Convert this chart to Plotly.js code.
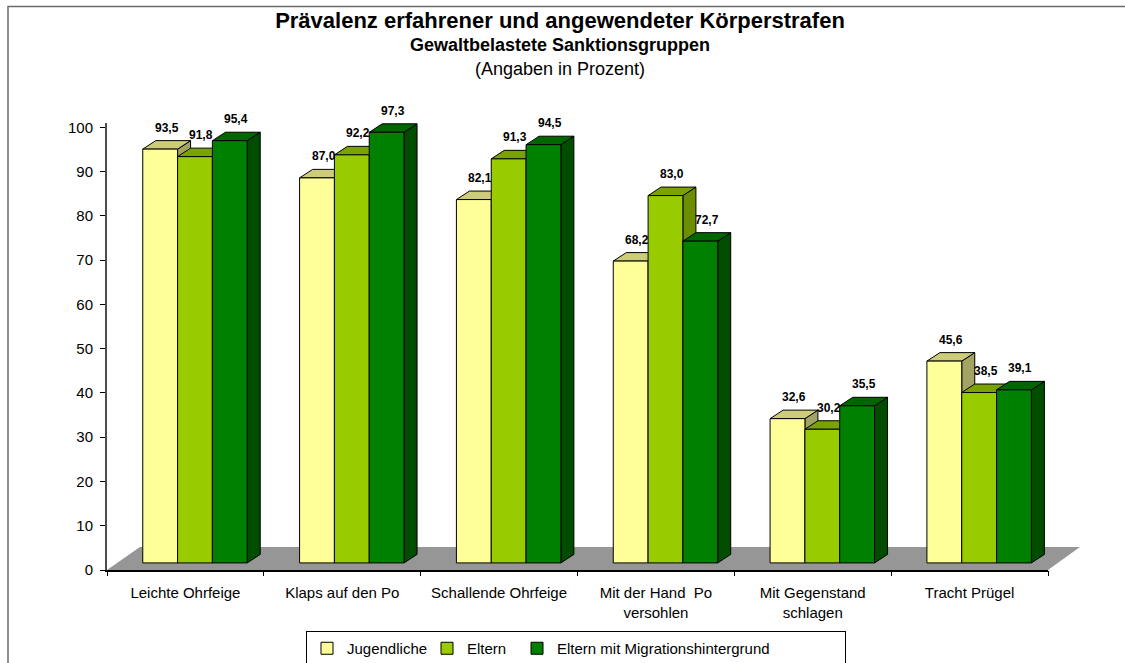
<!DOCTYPE html>
<html>
<head>
<meta charset="utf-8">
<script src="https://cdn.plot.ly/plotly-3.0.1.min.js"></script>
<style>
  html, body { margin: 0; padding: 0; background: #ffffff; }
  #chart { width: 1125px; height: 663px; }
</style>
</head>
<body>
<div id="chart"></div>
<script>
// ---- data ----
const categories = [
  'Leichte Ohrfeige',
  'Klaps auf den Po',
  'Schallende Ohrfeige',
  'Mit der Hand  Po<br>versohlen',
  'Mit Gegenstand<br>schlagen',
  'Tracht Prügel'
];
const seriesNames = ['Jugendliche', 'Eltern', 'Eltern mit Migrationshintergrund'];
const jugendliche = [93.5, 87.0, 82.1, 68.2, 32.6, 45.6];
const eltern      = [91.8, 92.2, 91.3, 83.0, 30.2, 38.5];
const migration   = [95.4, 97.3, 94.5, 72.7, 35.5, 39.1];
const yTickValues = [0, 10, 20, 30, 40, 50, 60, 70, 80, 90, 100];

// ---- style ----
const frontColors = ['#FFFF99', '#99CC00', '#008000'];
const topColors   = ['#CCCC7A', '#7AA300', '#006600'];
const sideColors  = ['#A3A363', '#6B8F00', '#004D00'];
const legendWidths = [75, 45, 283];
const FONT = 'Liberation Sans, Arial, sans-serif';

const barWidth = 0.222;
const offsets = [-0.272, -0.050, 0.172];
const floorBase = 1.6;      // raised front edge of the 3D floor
const depthX = 0.083;       // 3D depth in category units
const depthY = 1.92;        // 3D depth in value units

const seriesValues = [jugendliche, eltern, migration];
const idx = categories.map((c, i) => i);

const traces = seriesValues.map((vals, s) => ({
  type: 'bar',
  name: seriesNames[s],
  x: idx,
  y: vals,
  base: vals.map(() => floorBase),
  width: vals.map(() => barWidth),
  offset: vals.map(() => offsets[s]),
  legendwidth: legendWidths[s],
  marker: { color: frontColors[s], line: { color: '#000000', width: 1 } },
  hovertemplate: '%{y:.1f}<extra>' + seriesNames[s] + '</extra>'
}));

const shapes = [];
// outer frame
shapes.push({
  type: 'rect', xref: 'paper', yref: 'paper', layer: 'below',
  x0: (8 - 107) / 941, x1: 1.2, y0: -0.5, y1: (570 - 6.5) / 447,
  line: { color: '#6b6b6b', width: 1.5 }, fillcolor: 'rgba(0,0,0,0)'
});
// floor
shapes.push({
  type: 'path', xref: 'paper', yref: 'paper', layer: 'below',
  path: 'M 0,0 L 1,0 L 1.034,0.0515 L 0.035,0.0515 Z',
  fillcolor: '#969696', line: { width: 0 }
});
// 3D side and top faces of each bar
idx.forEach((j) => {
  seriesValues.forEach((vals, s) => {
    const x0 = j + offsets[s];
    const x1 = x0 + barWidth;
    const yb = floorBase;
    const yt = floorBase + vals[j];
    shapes.push({
      type: 'path', xref: 'x', yref: 'y', layer: 'below',
      path: `M ${x1},${yb} L ${x1},${yt} L ${x1 + depthX},${yt + depthY} L ${x1 + depthX},${yb + depthY} Z`,
      fillcolor: sideColors[s], line: { color: '#000000', width: 1 }
    });
    shapes.push({
      type: 'path', xref: 'x', yref: 'y', layer: 'below',
      path: `M ${x0},${yt} L ${x1},${yt} L ${x1 + depthX},${yt + depthY} L ${x0 + depthX},${yt + depthY} Z`,
      fillcolor: topColors[s], line: { color: '#000000', width: 1 }
    });
  });
});

const annotations = [];
idx.forEach((j) => {
  seriesValues.forEach((vals, s) => {
    annotations.push({
      xref: 'x', yref: 'y',
      x: j + offsets[s] + barWidth / 2 + depthX / 2,
      y: floorBase + vals[j] + depthY,
      yanchor: 'bottom', xanchor: 'center', yshift: 4,
      text: vals[j].toFixed(1).replace('.', ','),
      showarrow: false,
      font: { family: FONT, size: 12, color: '#000000', weight: 'bold' }
    });
  });
});
annotations.push({
  xref: 'paper', yref: 'paper', x: (560 - 107) / 941, y: (570 - 45) / 447,
  xanchor: 'center', yanchor: 'middle', showarrow: false,
  text: '<b>Gewaltbelastete Sanktionsgruppen</b>',
  font: { family: FONT, size: 18, color: '#000000' }
});
annotations.push({
  xref: 'paper', yref: 'paper', x: (560 - 107) / 941, y: (570 - 69) / 447,
  xanchor: 'center', yanchor: 'middle', showarrow: false,
  text: '(Angaben in Prozent)',
  font: { family: FONT, size: 18, color: '#000000' }
});

const layout = {
  width: 1125, height: 663,
  margin: { l: 107, r: 77, t: 123, b: 93, autoexpand: false },
  paper_bgcolor: '#ffffff', plot_bgcolor: 'rgba(0,0,0,0)',
  separators: ',.',
  font: { family: FONT, size: 15, color: '#000000' },
  title: {
    text: '<b>Prävalenz erfahrener und angewendeter Körperstrafen</b>',
    x: 560 / 1125, xanchor: 'center', xref: 'container',
    y: 1 - 20 / 663, yanchor: 'middle', yref: 'container',
    font: { family: FONT, size: 22, color: '#000000' }
  },
  barmode: 'overlay',
  showlegend: true,
  legend: {
    orientation: 'h', x: (306 - 107) / 941, xanchor: 'left',
    y: (570 - 631) / 447, yanchor: 'top',
    bordercolor: '#000000', borderwidth: 1, bgcolor: '#ffffff',
    font: { family: FONT, size: 15, color: '#000000' },
    itemwidth: 30, traceorder: 'normal'
  },
  xaxis: {
    type: 'linear', range: [-0.5, 5.5],
    tickmode: 'array', tickvals: idx, ticktext: categories,
    showgrid: false, zeroline: false,
    showline: true, linecolor: '#000000', linewidth: 2,
    ticks: '', ticklabelstandoff: 8,
    tickfont: { family: FONT, size: 15, color: '#000000' },
    fixedrange: true
  },
  xaxis2: {
    overlaying: 'x', range: [-0.5, 5.5], tickmode: 'array',
    tickvals: [-0.5, 0.5, 1.5, 2.5, 3.5, 4.5, 5.5],
    showticklabels: false, ticks: 'outside', ticklen: 5, tickcolor: '#000000', tickwidth: 1,
    showgrid: false, zeroline: false, showline: false, side: 'bottom', anchor: 'y'
  },
  yaxis: {
    range: [0, 101], tickmode: 'array', tickvals: yTickValues,
    showgrid: false, zeroline: false,
    showline: true, linecolor: '#4d4d4d', linewidth: 2,
    ticks: 'outside', ticklen: 5, tickcolor: '#000000', tickwidth: 1,
    ticklabelstandoff: 4,
    tickfont: { family: FONT, size: 15, color: '#000000' },
    fixedrange: true
  },
  shapes: shapes,
  annotations: annotations
};

// invisible helper trace to show the category boundary ticks on xaxis2
traces.push({
  type: 'scatter', x: [0], y: [0], xaxis: 'x2', yaxis: 'y',
  mode: 'markers', marker: { opacity: 0 }, showlegend: false, hoverinfo: 'skip'
});

Plotly.newPlot('chart', traces, layout, { displayModeBar: false, staticPlot: true });
</script>
</body>
</html>
